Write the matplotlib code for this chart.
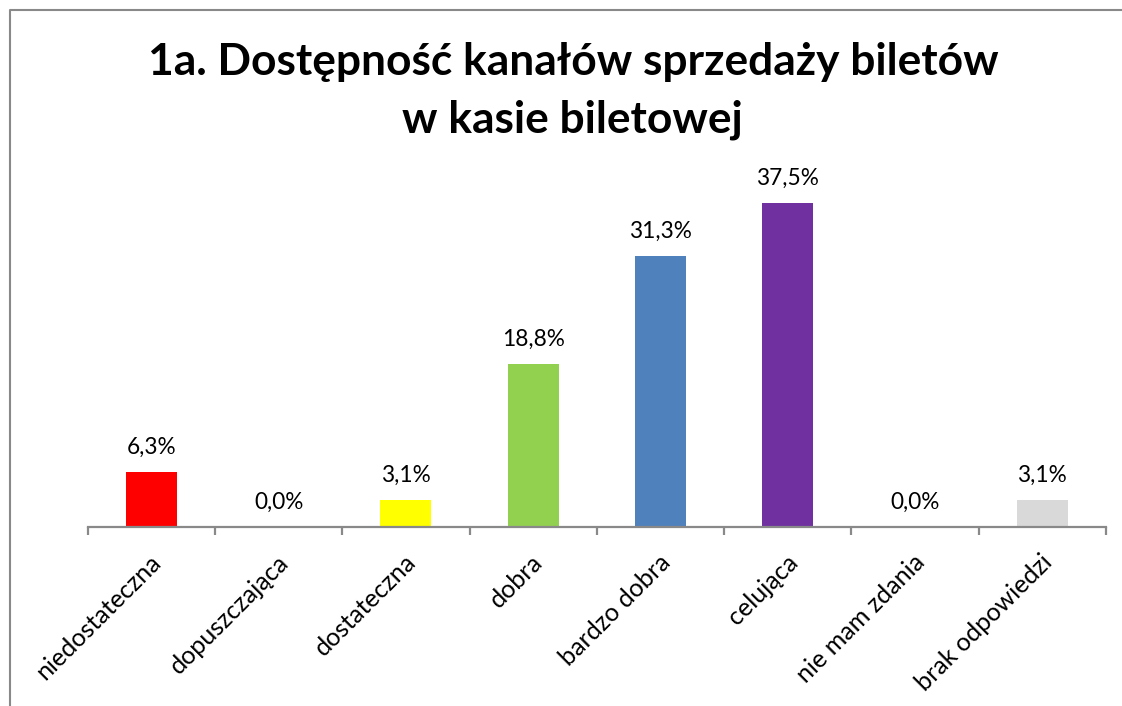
import matplotlib
matplotlib.use("Agg")
import matplotlib.pyplot as plt
from matplotlib.lines import Line2D
from matplotlib.transforms import ScaledTranslation

categories = ["niedostateczna", "dopuszczająca", "dostateczna", "dobra",
              "bardzo dobra", "celująca", "nie mam zdania", "brak odpowiedzi"]
values = [6.3, 0.0, 3.1, 18.8, 31.3, 37.5, 0.0, 3.1]
value_labels = ["6,3%", "0,0%", "3,1%", "18,8%", "31,3%", "37,5%", "0,0%", "3,1%"]
colors = ["#FF0000", "#A5A5A5", "#FFFF00", "#92D050", "#4F81BD", "#7030A0", "#A5A5A5", "#D9D9D9"]
title_lines = ["1a. Dostępność kanałów sprzedaży biletów", "w kasie biletowej"]

W, H = 1122, 706
FONT = "Lato"
fig = plt.figure(figsize=(W / 100, H / 100), dpi=100)
fig.patch.set_facecolor("white")

# axes in pixel geometry
x0, x1 = 87.75, 1106.0
y_base = 526.5
ymax = 40.0
px_per_unit = 8.64
ax = fig.add_axes([x0 / W, (H - y_base) / H, (x1 - x0) / W, ymax * px_per_unit / H])
ax.set_xlim(-0.5, len(categories) - 0.5)
ax.set_ylim(0, ymax)

ax.bar(range(len(categories)), values, width=0.4, color=colors, zorder=2)

for s in ["top", "right", "left"]:
    ax.spines[s].set_visible(False)
ax.spines["bottom"].set_color("#898989")
ax.spines["bottom"].set_linewidth(1.6)
ax.set_yticks([])
ax.set_xticks([i - 0.5 for i in range(len(categories) + 1)])
ax.set_xticklabels([])
ax.tick_params(axis="x", length=6, width=1.6, color="#898989", direction="out")

renderer = fig.canvas.get_renderer()

def fit(t, target_px):
    w = t.get_window_extent(renderer).width
    t.set_fontsize(t.get_fontsize() * target_px / w)

# value labels
probe = fig.text(0, 0, "37,5%", fontsize=16, family=FONT)
fit(probe, 63)
vfs = probe.get_fontsize()
probe.remove()
for i, (v, lab) in enumerate(zip(values, value_labels)):
    ax.annotate(lab, (i, v), xytext=(0, 13), textcoords="offset points",
                ha="center", va="baseline", fontsize=vfs, family=FONT, color="black")

# category labels
probe = fig.text(0, 0, "dopuszczająca", fontsize=16, family=FONT)
fit(probe, 158)
cfs = probe.get_fontsize()
probe.remove()
off = ScaledTranslation(6 / 100, -32 / 100, fig.dpi_scale_trans)
for i, c in enumerate(categories):
    ax.text(i, 0, c, transform=ax.get_xaxis_transform() + off, rotation=45,
            rotation_mode="anchor", ha="right", va="center",
            fontsize=cfs, family=FONT, color="black")

# title
t1 = fig.text(573 / W, (H - 75) / H, title_lines[0], ha="center", va="baseline",
              fontsize=28, fontweight="bold", family=FONT)
fit(t1, 850)
fig.text(572 / W, (H - 132) / H, title_lines[1], ha="center", va="baseline",
         fontsize=t1.get_fontsize(), fontweight="bold", family=FONT)

# chart border (top and left visible)
fig.add_artist(Line2D([9.5 / W, 9.5 / W, 1.0], [0.0, (H - 9.5) / H, (H - 9.5) / H],
                      transform=fig.transFigure, color="#898989", linewidth=1.5))

fig.savefig("out.png", dpi=100, facecolor="white")
